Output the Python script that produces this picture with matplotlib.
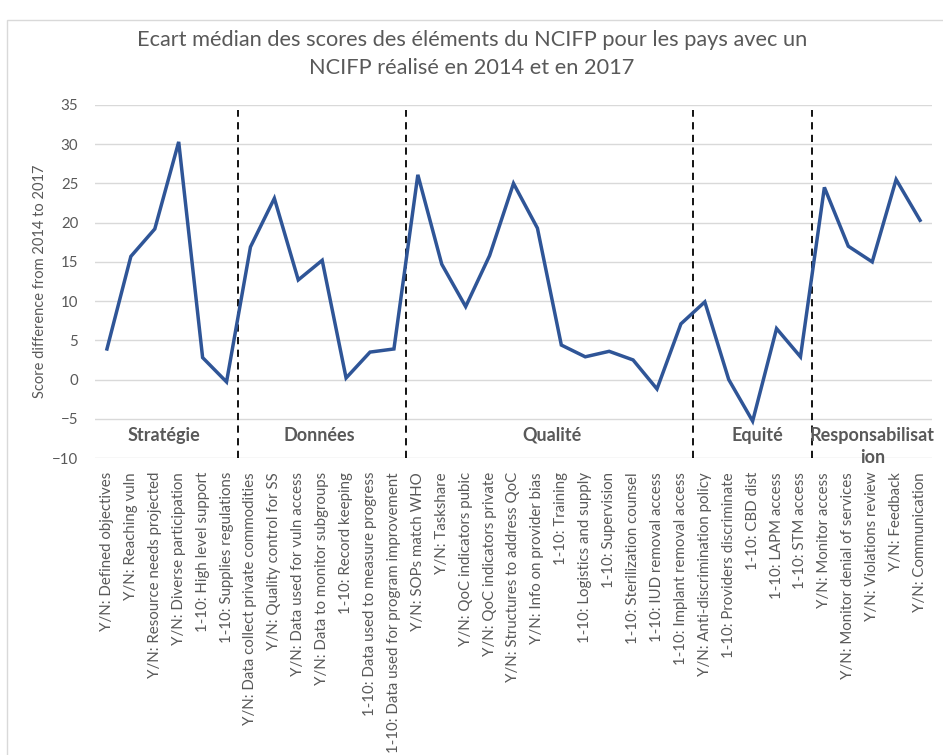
import matplotlib.pyplot as plt
from matplotlib.patches import Rectangle

plt.rcParams['font.family'] = ['Lato', 'DejaVu Sans']

# Data
labels = ['Y/N: Defined objectives', 'Y/N: Reaching vuln', 'Y/N: Resource needs projected',
          'Y/N: Diverse participation', '1-10: High level support', '1-10: Supplies regulations',
          'Y/N: Data collect private commodities', 'Y/N: Quality control for SS',
          'Y/N: Data used for vuln access', 'Y/N: Data to monitor subgroups', '1-10: Record keeping',
          '1-10: Data used to measure progress', '1-10: Data used for program improvement',
          'Y/N: SOPs match WHO', 'Y/N: Taskshare', 'Y/N: QoC indicators pubic',
          'Y/N: QoC indicators private', 'Y/N: Structures to address QoC',
          'Y/N: Info on provider bias', '1-10: Training', '1-10: Logistics and supply',
          '1-10: Supervision', '1-10: Sterilization counsel', '1-10: IUD removal access',
          '1-10: Implant removal access', 'Y/N: Anti-discrimination policy',
          '1-10: Providers discriminate', '1-10: CBD dist', '1-10: LAPM access', '1-10: STM access',
          'Y/N: Monitor access', 'Y/N: Monitor denial of services', 'Y/N: Violations review',
          'Y/N: Feedback', 'Y/N: Communication']
values = [3.9, 15.7, 19.2, 30.3, 2.8, -0.3,
          16.9, 23.1, 12.7, 15.2, 0.2, 3.5, 3.9,
          26.1, 14.7, 9.3, 15.8, 25.0, 19.3, 4.4, 2.9, 3.6, 2.5, -1.2, 7.1,
          9.9, 0.0, -5.3, 6.5, 2.9,
          24.5, 17.0, 15.0, 25.5, 20.3]
sections = ['Stratégie', 'Données', 'Qualité', 'Equité', 'Responsabilisat']
section_sizes = [6, 7, 12, 5, 5]
section_label_x = [2.4, 8.9, 18.6, 27.2, 32.0]

blue = '#2F5597'
grey = '#595959'

fig = plt.figure(figsize=(9.43, 7.55), dpi=100)
ax = fig.add_axes([95 / 943, 1 - 458 / 755, (932 - 95) / 943, (458 - 105) / 755])

# chart area border
fig.patches.append(Rectangle((7 / 943, -0.1), 1.1, 1 - 20 / 755 + 0.1, transform=fig.transFigure,
                             fill=False, edgecolor='#D9D9D9', linewidth=1))

x = list(range(len(values)))
ax.plot(x, values, color=blue, linewidth=2.5, solid_joinstyle='miter', zorder=3)

ax.set_xlim(-0.5, len(values) - 0.5)
ax.set_ylim(-10, 35)
ax.set_yticks(range(-10, 36, 5))
ax.yaxis.grid(True, color='#D9D9D9', linewidth=1)
ax.set_axisbelow(True)
for s in ax.spines.values():
    s.set_visible(False)
ax.tick_params(axis='both', length=0, colors=grey, labelsize=10.8)
ax.tick_params(axis='y', pad=12)
ax.tick_params(axis='x', pad=10)
ax.set_xticks(x)
ax.set_xticklabels(labels, rotation=90, fontsize=10.8, color=grey)
ax.set_ylabel('Score difference from 2014 to 2017', fontsize=10.5, color=grey, labelpad=4)

# section separators
pos = -0.5
for size in section_sizes[:-1]:
    pos += size
    ax.plot([pos, pos], [-10, 34.3], color='black', linestyle=(0, (4, 3)), linewidth=1.3, zorder=2)

for name, sx in zip(sections, section_label_x):
    ax.text(sx, -7.1, name, ha='center', va='center',
            fontsize=13, fontweight='bold', color=grey)
ax.text(section_label_x[-1], -9.9, 'ion', ha='center', va='center',
        fontsize=13, fontweight='bold', color=grey, clip_on=False)

fig.text(472 / 943, 1 - 54 / 755,
         'Ecart médian des scores des éléments du NCIFP pour les pays avec un\nNCIFP réalisé en 2014 et en 2017',
         ha='center', va='center', fontsize=15.7, color=grey, linespacing=1.45)

fig.savefig('out.png', dpi=100)
